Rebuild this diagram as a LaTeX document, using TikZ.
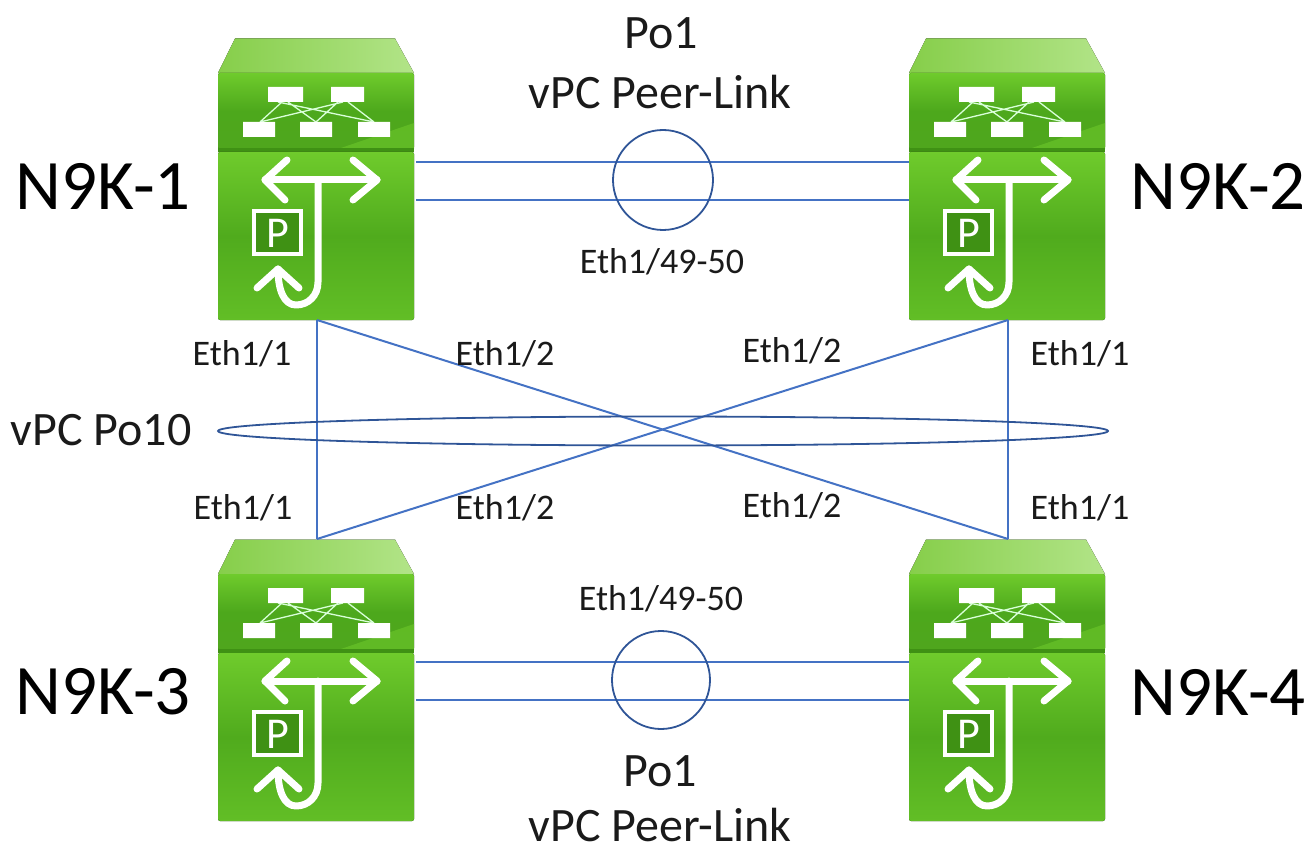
\documentclass[tikz,border=0pt]{standalone}
\usepackage{fontspec}
\setmainfont{Carlito}
\definecolor{linkblue}{HTML}{4472C4}
\definecolor{ringblue}{HTML}{2F5597}
\definecolor{txt}{HTML}{1A1A1A}
\definecolor{mroofa}{HTML}{86CE4A}
\definecolor{mroofb}{HTML}{B2E488}
\definecolor{mfacea}{HTML}{6FCB2C}
\definecolor{mfaceb}{HTML}{4FA61D}
\definecolor{mfacec}{HTML}{4DA81C}
\definecolor{mfaced}{HTML}{62BE26}
\definecolor{mfacee}{HTML}{50AB1D}
\definecolor{mdark}{HTML}{3F9114}
\tikzset{
  x=1pt,y=-1pt,
  link/.style={draw=linkblue,line width=2pt},
  ring/.style={draw=ringblue,line width=1.8pt},
  bigname/.style={font=\fontsize{71}{75}\selectfont,text=black,inner sep=0pt},
  midname/.style={font=\fontsize{48}{52}\selectfont,text=txt,inner sep=0pt},
  portname/.style={font=\fontsize{36}{40}\selectfont,text=txt,inner sep=0pt},
  swbox/.style={minimum width=198pt,minimum height=282pt,inner sep=0pt,outer sep=0pt,anchor=north west},
  wline/.style={draw=white,line width=7pt,line cap=round,line join=round},
  wthin/.style={draw=white!85!green,line width=1.3pt},
  wbox/.style={fill=white},
}
\newcommand{\switchicon}[3]{%
  \node[swbox] (#1) at (#2,#3) {};
  \begin{scope}[shift={(#2,#3)}]
    \fill[left color=mroofa,right color=mroofb] (17,0.5) -- (177,0.5) -- (196,35) -- (0,35) -- cycle;
    \fill[rounded corners=2pt,top color=mfacea,bottom color=mfaceb,middle color=mfacec] (0,35) rectangle (196,111);
    \fill[mfacea,opacity=.55] (120,111) -- (196,85) -- (196,111) -- cycle;
    \fill[mdark] (0,110) rectangle (196,114);
    \fill[rounded corners=2pt,top color=mfacea,bottom color=mfaced,middle color=mfacee] (0,114) rectangle (196,282);
    \draw[wthin] (64,64) -- (42,84) (70,64) -- (98,84) (120,64) -- (98,84) (130,64) -- (156,84) (60,64) -- (156,84) (125,64) -- (42,84);
    \fill[wbox] (50,49) rectangle (85,64) (113,49) rectangle (146,64);
    \fill[wbox] (25,84) rectangle (57,99) (82,84) rectangle (114,99) (140,84) rectangle (172,99);
    \draw[wline] (47,142) -- (159,142);
    \draw[wline] (69,122) -- (47,142) -- (67,162);
    \draw[wline] (135,122) -- (159,142) -- (135,162);
    \draw[wline] (100,142) -- (100,244) .. controls (100,258) and (90,267) .. (78,267) .. controls (66,267) and (60,252) .. (60,231);
    \draw[wline] (39,250) -- (60,231) -- (81,250);
    \fill[mdark] (37,174) rectangle (82,215);
    \draw[draw=white,line width=3.5pt] (36,173) rectangle (83,216);
    \node[inner sep=0pt,text=white,font=\fontsize{44}{46}\selectfont] (#1p) at (59.5,195) {P};
  \end{scope}}
\begin{document}
\begin{tikzpicture}
\useasboundingbox (0,0) rectangle (1310,845);
\switchicon{nA}{218}{38}
\switchicon{nB}{909}{38}
\switchicon{nC}{218}{539}
\switchicon{nD}{909}{539}
% peer links
\draw[link] ([yshift=17pt]nA.east) -- ([yshift=17pt]nB.west);
\draw[link] ([yshift=-21pt]nA.east) -- ([yshift=-21pt]nB.west);
\draw[link] ([yshift=18pt]nC.east) -- ([yshift=18pt]nD.west);
\draw[link] ([yshift=-20pt]nC.east) -- ([yshift=-20pt]nD.west);
% vpc links
\draw[link] (nA.south) -- (nC.north);
\draw[link] (nB.south) -- (nD.north);
\draw[link] (nA.south) -- (nD.north);
\draw[link] (nB.south) -- (nC.north);
% rings
\node[circle,ring,minimum size=100pt,inner sep=0pt] (ringTop) at (663,180) {};
\node[circle,ring,minimum size=98pt,inner sep=0pt] (ringBot) at (661,680) {};
\draw[ring] (663,431) ellipse [x radius=445,y radius=14.5];
% labels
\node[bigname] (tA) at (103,186) {N9K-1};
\node[bigname] (tB) at (1218,186) {N9K-2};
\node[bigname] (tC) at (103,692) {N9K-3};
\node[bigname] (tD) at (1218,692) {N9K-4};
\node[midname] (po1) at (661,33) {Po1};
\node[midname] (pl1) at (660,92) {vPC Peer-Link};
\node[midname] (po2) at (660,771) {Po1};
\node[midname] (pl2) at (660,825) {vPC Peer-Link};
\node[midname] (po10) at (101,430) {vPC Po10};
\node[portname] (e1) at (662,262) {Eth1/49-50};
\node[portname] (e2) at (661,599) {Eth1/49-50};
\node[portname] (e3) at (242,354) {Eth1/1};
\node[portname] (e4) at (505,354) {Eth1/2};
\node[portname] (e5) at (792,351) {Eth1/2};
\node[portname] (e6) at (1080,354) {Eth1/1};
\node[portname] (e7) at (243,508) {Eth1/1};
\node[portname] (e8) at (505,508) {Eth1/2};
\node[portname] (e9) at (792,506) {Eth1/2};
\node[portname] (e10) at (1080,508) {Eth1/1};
\end{tikzpicture}
\end{document}
